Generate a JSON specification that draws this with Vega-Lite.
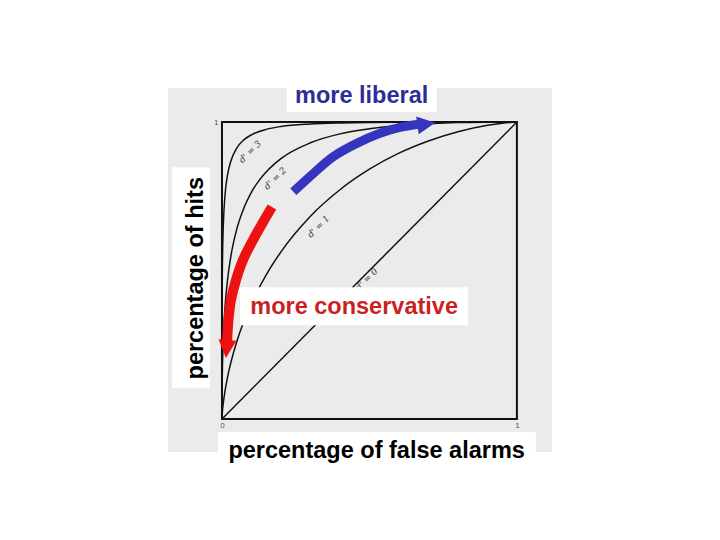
{
  "$schema": "https://vega.github.io/schema/vega-lite/v6.json",
  "width": 384,
  "height": 364,
  "autosize": {"type": "none"},
  "padding": {"left": 168, "top": 88, "right": 168, "bottom": 88},
  "background": "white",
  "config": {"view": {"fill": "#ebebeb", "stroke": null}, "axis": {"grid": false}},
  "datasets": {
    "curves": [
      {"d": "0", "fa": 0, "hit": 0}, {"d": "0", "fa": 1, "hit": 1},
      {"d": "1", "fa": 0, "hit": 0}, {"d": "1", "fa": 0.001, "hit": 0.0183}, {"d": "1", "fa": 0.005, "hit": 0.0575},
      {"d": "1", "fa": 0.01, "hit": 0.0924}, {"d": "1", "fa": 0.02, "hit": 0.146}, {"d": "1", "fa": 0.05, "hit": 0.2595},
      {"d": "1", "fa": 0.1, "hit": 0.389}, {"d": "1", "fa": 0.15, "hit": 0.4855}, {"d": "1", "fa": 0.2, "hit": 0.563},
      {"d": "1", "fa": 0.3, "hit": 0.683}, {"d": "1", "fa": 0.4, "hit": 0.772}, {"d": "1", "fa": 0.5, "hit": 0.841},
      {"d": "1", "fa": 0.6, "hit": 0.895}, {"d": "1", "fa": 0.7, "hit": 0.936}, {"d": "1", "fa": 0.8, "hit": 0.967},
      {"d": "1", "fa": 0.9, "hit": 0.989}, {"d": "1", "fa": 0.95, "hit": 0.996}, {"d": "1", "fa": 1, "hit": 1},
      {"d": "2", "fa": 0, "hit": 0}, {"d": "2", "fa": 0.00001, "hit": 0.0118}, {"d": "2", "fa": 0.0001, "hit": 0.0428},
      {"d": "2", "fa": 0.001, "hit": 0.138}, {"d": "2", "fa": 0.005, "hit": 0.282}, {"d": "2", "fa": 0.01, "hit": 0.372},
      {"d": "2", "fa": 0.02, "hit": 0.478}, {"d": "2", "fa": 0.03, "hit": 0.547}, {"d": "2", "fa": 0.05, "hit": 0.639},
      {"d": "2", "fa": 0.075, "hit": 0.712}, {"d": "2", "fa": 0.1, "hit": 0.764}, {"d": "2", "fa": 0.15, "hit": 0.832},
      {"d": "2", "fa": 0.2, "hit": 0.877}, {"d": "2", "fa": 0.3, "hit": 0.93}, {"d": "2", "fa": 0.4, "hit": 0.96},
      {"d": "2", "fa": 0.5, "hit": 0.977}, {"d": "2", "fa": 0.6, "hit": 0.988}, {"d": "2", "fa": 0.7, "hit": 0.994},
      {"d": "2", "fa": 0.8, "hit": 0.998}, {"d": "2", "fa": 0.9, "hit": 0.9995}, {"d": "2", "fa": 1, "hit": 1},
      {"d": "3", "fa": 0, "hit": 0}, {"d": "3", "fa": 0.00001, "hit": 0.103}, {"d": "3", "fa": 0.0001, "hit": 0.236},
      {"d": "3", "fa": 0.001, "hit": 0.464}, {"d": "3", "fa": 0.002, "hit": 0.549}, {"d": "3", "fa": 0.005, "hit": 0.664},
      {"d": "3", "fa": 0.01, "hit": 0.75}, {"d": "3", "fa": 0.02, "hit": 0.828}, {"d": "3", "fa": 0.03, "hit": 0.868},
      {"d": "3", "fa": 0.05, "hit": 0.912}, {"d": "3", "fa": 0.075, "hit": 0.9406}, {"d": "3", "fa": 0.1, "hit": 0.957},
      {"d": "3", "fa": 0.15, "hit": 0.9752}, {"d": "3", "fa": 0.2, "hit": 0.985}, {"d": "3", "fa": 0.3, "hit": 0.9934},
      {"d": "3", "fa": 0.4, "hit": 0.997}, {"d": "3", "fa": 0.5, "hit": 0.9987}, {"d": "3", "fa": 0.7, "hit": 0.9998},
      {"d": "3", "fa": 1, "hit": 1}
    ],
    "frame": [{"x": 0, "x2": 1, "y": 0, "y2": 1}],
    "dlabels": [
      {"label": "d' = 3", "x": 0.095, "y": 0.9},
      {"label": "d' = 2", "x": 0.18, "y": 0.81},
      {"label": "d' = 1", "x": 0.327, "y": 0.648},
      {"label": "d' = 0", "x": 0.49, "y": 0.47}
    ],
    "blue": [
      {"x": 0.242, "y": 0.765}, {"x": 0.298, "y": 0.816}, {"x": 0.377, "y": 0.883},
      {"x": 0.457, "y": 0.928}, {"x": 0.536, "y": 0.962}, {"x": 0.603, "y": 0.982}, {"x": 0.678, "y": 0.993}
    ],
    "red": [
      {"x": 0.1695, "y": 0.7138}, {"x": 0.1356, "y": 0.6566}, {"x": 0.1017, "y": 0.596},
      {"x": 0.0712, "y": 0.5354}, {"x": 0.0475, "y": 0.468}, {"x": 0.0305, "y": 0.4007},
      {"x": 0.022, "y": 0.3333}, {"x": 0.0169, "y": 0.2525}
    ],
    "heads": [
      {"arrow": "blue", "x": 0.693, "y": 0.993},
      {"arrow": "red", "x": 0.016, "y": 0.236}
    ],
    "boxes": [
      {"box": "liberal", "x": 0.22, "x2": 0.729, "y": 1.034, "y2": 1.1145},
      {"box": "conservative", "x": 0.061, "x2": 0.834, "y": 0.316, "y2": 0.444},
      {"box": "xtitle", "x": -0.0136, "x2": 1.064, "y": -0.111, "y2": -0.044},
      {"box": "ytitle", "x": -0.169, "x2": -0.041, "y": 0.104, "y2": 0.848}
    ],
    "texts": [
      {"role": "liberal", "label": "more liberal", "x": 0.4736, "y": 1.063},
      {"role": "conservative", "label": "more conservative", "x": 0.448, "y": 0.3525},
      {"role": "xtitle", "label": "percentage of false alarms", "x": 0.5244, "y": -0.1296},
      {"role": "ytitle", "label": "percentage of hits", "x": -0.0654, "y": 0.474}
    ]
  },
  "layer": [
    {
      "data": {"name": "curves"},
      "mark": {"type": "line", "color": "#111111", "strokeWidth": 1.5, "interpolate": "monotone"},
      "encoding": {
        "x": {"field": "fa", "type": "quantitative",
              "scale": {"domain": [-0.183, 1.119], "nice": false, "zero": false},
              "axis": {"values": [0, 1], "format": "d", "offset": -33, "domain": false, "ticks": false, "labelFontSize": 8, "labelColor": "#555555", "labelPadding": 2, "title": null, "labelFont": "Liberation Sans"}},
        "y": {"field": "hit", "type": "quantitative",
              "scale": {"domain": [-0.111, 1.1145], "nice": false, "zero": false},
              "axis": {"values": [1], "format": "d", "offset": -54, "domain": false, "ticks": false, "labelFontSize": 8, "labelColor": "#555555", "labelPadding": 4, "title": null, "labelFont": "Liberation Sans"}},
        "detail": {"field": "d"}
      }
    },
    {
      "data": {"name": "frame"},
      "mark": {"type": "rect", "fillOpacity": 0, "stroke": "#111111", "strokeWidth": 2},
      "encoding": {
        "x": {"field": "x", "type": "quantitative"}, "x2": {"field": "x2"},
        "y": {"field": "y", "type": "quantitative"}, "y2": {"field": "y2"}
      }
    },
    {
      "data": {"name": "dlabels"},
      "mark": {"type": "text", "font": "DejaVu Serif", "fontStyle": "italic", "fontSize": 9, "fill": "#333333", "angle": -45, "align": "center", "baseline": "middle"},
      "encoding": {
        "x": {"field": "x", "type": "quantitative"},
        "y": {"field": "y", "type": "quantitative"},
        "text": {"field": "label"}
      }
    },
    {
      "data": {"name": "blue"},
      "mark": {"type": "line", "color": "#3535c0", "strokeWidth": 9, "interpolate": "catmull-rom", "strokeCap": "butt"},
      "encoding": {
        "x": {"field": "x", "type": "quantitative"},
        "y": {"field": "y", "type": "quantitative"},
        "order": {"field": "x"}
      }
    },
    {
      "data": {"name": "red"},
      "mark": {"type": "line", "color": "#ee1111", "strokeWidth": 10, "interpolate": "catmull-rom", "strokeCap": "butt"},
      "encoding": {
        "x": {"field": "x", "type": "quantitative"},
        "y": {"field": "y", "type": "quantitative"},
        "order": {"field": "y"}
      }
    },
    {
      "data": {"name": "heads"},
      "transform": [{"filter": "datum.arrow == 'blue'"}],
      "mark": {"type": "point", "shape": "M -1 -1 L 1 0 L -1 1 Z", "size": 324, "filled": true, "opacity": 1, "color": "#3535c0", "angle": -8},
      "encoding": {
        "x": {"field": "x", "type": "quantitative"},
        "y": {"field": "y", "type": "quantitative"}
      }
    },
    {
      "data": {"name": "heads"},
      "transform": [{"filter": "datum.arrow == 'red'"}],
      "mark": {"type": "point", "shape": "M -1 -1 L 1 0 L -1 1 Z", "size": 324, "filled": true, "opacity": 1, "color": "#ee1111", "angle": 95},
      "encoding": {
        "x": {"field": "x", "type": "quantitative"},
        "y": {"field": "y", "type": "quantitative"}
      }
    },
    {
      "data": {"name": "boxes"},
      "mark": {"type": "rect", "color": "white"},
      "encoding": {
        "x": {"field": "x", "type": "quantitative"}, "x2": {"field": "x2"},
        "y": {"field": "y", "type": "quantitative"}, "y2": {"field": "y2"}
      }
    },
    {
      "data": {"name": "texts"},
      "transform": [{"filter": "datum.role == 'liberal'"}],
      "mark": {"type": "text", "font": "Liberation Sans", "fontWeight": "bold", "fontSize": 23.5, "color": "#2d2d96", "align": "center", "baseline": "alphabetic"},
      "encoding": {
        "x": {"field": "x", "type": "quantitative"},
        "y": {"field": "y", "type": "quantitative"},
        "text": {"field": "label"}
      }
    },
    {
      "data": {"name": "texts"},
      "transform": [{"filter": "datum.role == 'conservative'"}],
      "mark": {"type": "text", "font": "Liberation Sans", "fontWeight": "bold", "fontSize": 23.5, "color": "#cc1f1f", "align": "center", "baseline": "alphabetic"},
      "encoding": {
        "x": {"field": "x", "type": "quantitative"},
        "y": {"field": "y", "type": "quantitative"},
        "text": {"field": "label"}
      }
    },
    {
      "data": {"name": "texts"},
      "transform": [{"filter": "datum.role == 'xtitle'"}],
      "mark": {"type": "text", "font": "Liberation Sans", "fontWeight": "bold", "fontSize": 23.5, "color": "#000000", "align": "center", "baseline": "alphabetic"},
      "encoding": {
        "x": {"field": "x", "type": "quantitative"},
        "y": {"field": "y", "type": "quantitative"},
        "text": {"field": "label"}
      }
    },
    {
      "data": {"name": "texts"},
      "transform": [{"filter": "datum.role == 'ytitle'"}],
      "mark": {"type": "text", "font": "Liberation Sans", "fontWeight": "bold", "fontSize": 23.5, "color": "#000000", "align": "center", "baseline": "alphabetic", "angle": -90},
      "encoding": {
        "x": {"field": "x", "type": "quantitative"},
        "y": {"field": "y", "type": "quantitative"},
        "text": {"field": "label"}
      }
    }
  ]
}
